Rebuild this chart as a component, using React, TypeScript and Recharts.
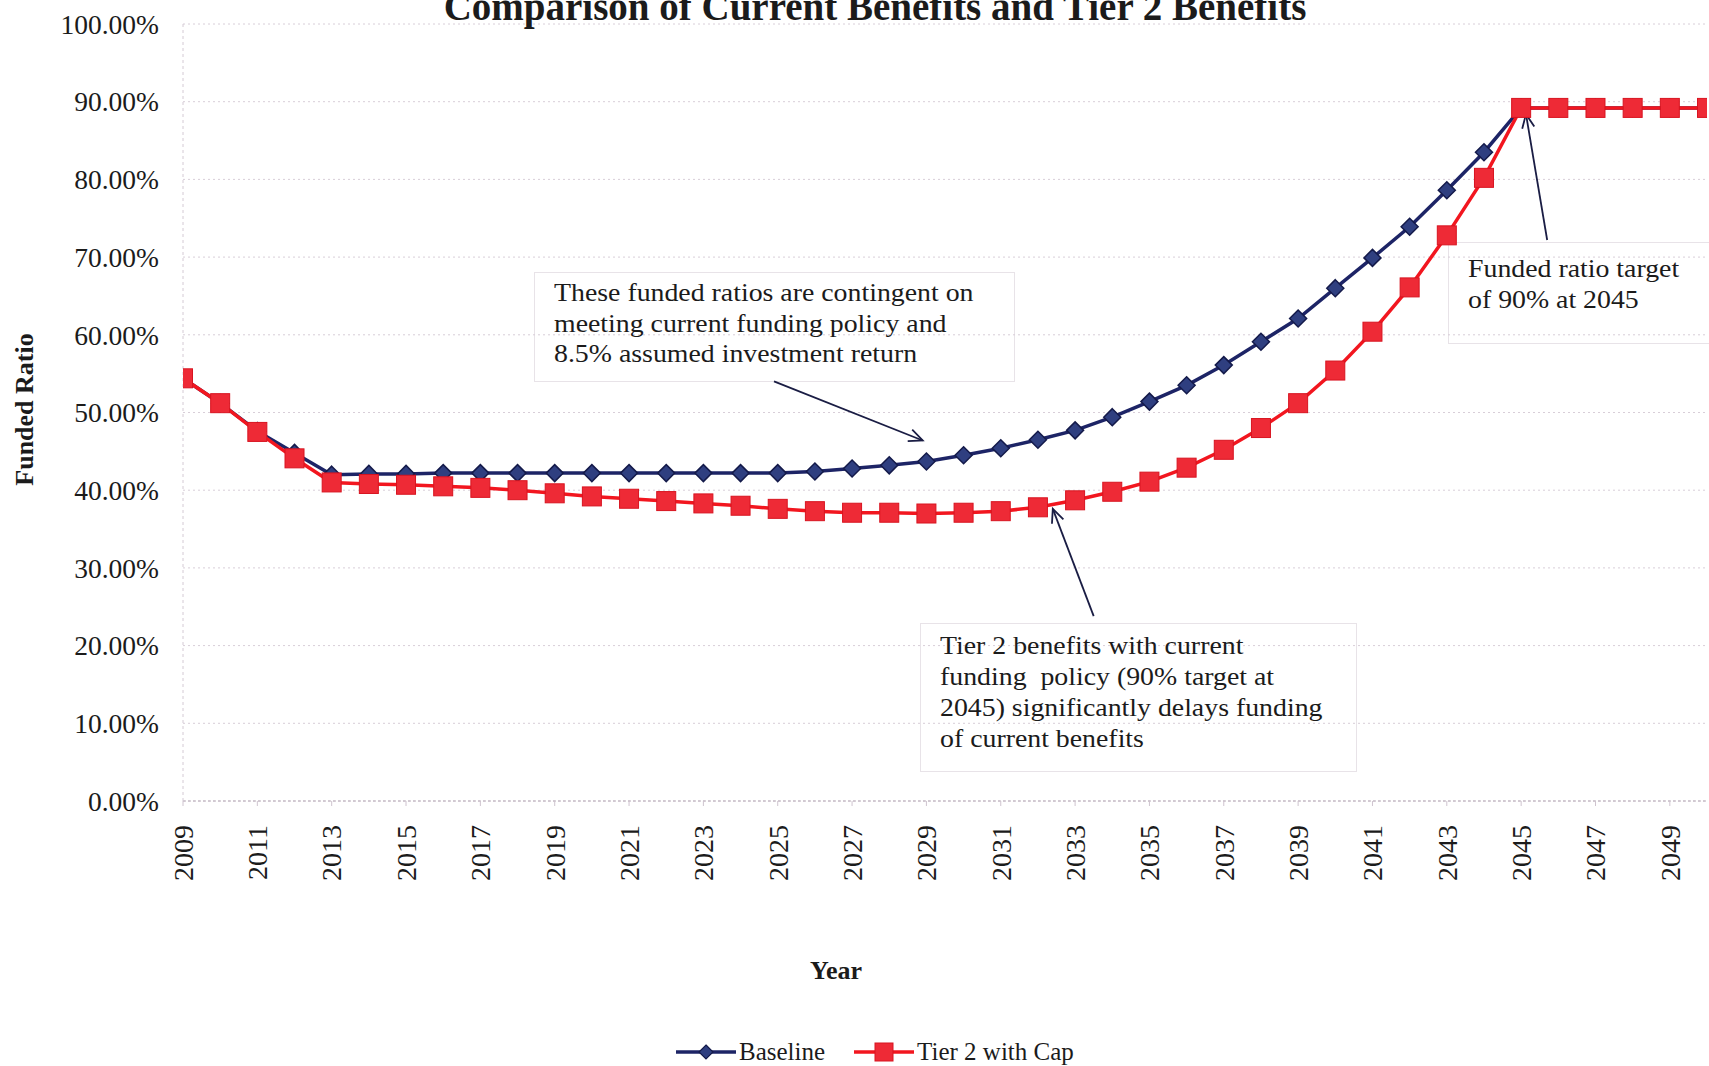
import React from 'react'
import { LineChart, Line, XAxis, YAxis, CartesianGrid, Legend, ReferenceLine, Label } from 'recharts'

// funded ratio projections, in percent
const years = [
    2009, 2010, 2011, 2012, 2013, 2014, 2015, 2016, 2017, 2018, 2019, 2020, 2021, 2022,
    2023, 2024, 2025, 2026, 2027, 2028, 2029, 2030, 2031, 2032, 2033, 2034, 2035, 2036,
    2037, 2038, 2039, 2040, 2041, 2042, 2043, 2044, 2045, 2046, 2047, 2048, 2049, 2050,
]
const baseline = [
    54.4, 51.2, 47.6, 44.8, 42.0, 42.1, 42.1, 42.2, 42.2, 42.2, 42.2, 42.2, 42.2, 42.2,
    42.2, 42.2, 42.2, 42.4, 42.8, 43.2, 43.7, 44.5, 45.4, 46.5, 47.7, 49.4, 51.4, 53.5,
    56.1, 59.1, 62.1, 66.0, 69.9, 73.9, 78.6, 83.5, 89.2, 89.2, 89.2, 89.2, 89.2, 89.2,
]
const tier2WithCap = [
    54.4, 51.2, 47.5, 44.1, 41.0, 40.8, 40.7, 40.5, 40.3, 40.0, 39.6, 39.2, 38.9, 38.6,
    38.3, 38.0, 37.6, 37.3, 37.1, 37.1, 37.0, 37.1, 37.3, 37.8, 38.7, 39.8, 41.1, 42.9,
    45.2, 48.0, 51.2, 55.4, 60.4, 66.1, 72.8, 80.2, 89.2, 89.2, 89.2, 89.2, 89.2, 89.2,
]
const yearTicks = [
    2009, 2011, 2013, 2015, 2017, 2019, 2021, 2023, 2025, 2027, 2029, 2031, 2033, 2035,
    2037, 2039, 2041, 2043, 2045, 2047, 2049,
]
const ratioTicks = [0, 10, 20, 30, 40, 50, 60, 70, 80, 90, 100]

// callout arrows, tail -> head, in (year, ratio) units
const contingentArrow = [{ x: 2024.9, y: 54.0 }, { x: 2028.9, y: 46.4 }]
const delayArrow = [{ x: 2033.5, y: 23.8 }, { x: 2032.4, y: 37.6 }]
const targetArrow = [{ x: 2045.7, y: 72.2 }, { x: 2045.13, y: 88.4 }]

const data = years.map((year, i) => ({ year, baseline: baseline[i], tier2: tier2WithCap[i] }))

const FONT = "'Liberation Serif', 'Times New Roman', Times, serif"
const NAVY = '#1d2466'
const RED = '#f2161f'
const INK = '#1b1b1b'

const Diamond = (props: any) => {
    const { cx, cy, index } = props
    if (cx == null || cy == null) return null
    const r = 8.5
    return (
        <polygon
            key={`b-${index}`}
            points={`${cx},${cy - r} ${cx + r},${cy} ${cx},${cy + r} ${cx - r},${cy}`}
            fill="#2f3f80"
            stroke="#141a4a"
            strokeWidth={1.5}
        />
    )
}

const Square = (props: any) => {
    const { cx, cy, index } = props
    if (cx == null || cy == null) return null
    const s = 19
    return (
        <rect
            key={`t-${index}`}
            x={cx - s / 2}
            y={cy - s / 2}
            width={s}
            height={s}
            fill="#ee2a36"
            stroke="#d81420"
            strokeWidth={1}
        />
    )
}

const Arrow = (props: any) => {
    const { x1, y1, x2, y2 } = props
    if ([x1, y1, x2, y2].some((v) => v == null || Number.isNaN(v))) return null
    const ang = Math.atan2(y2 - y1, x2 - x1)
    const len = 15
    const spread = 0.42
    const a = [x2 - len * Math.cos(ang - spread), y2 - len * Math.sin(ang - spread)]
    const b = [x2 - len * Math.cos(ang + spread), y2 - len * Math.sin(ang + spread)]
    return (
        <g stroke="#1a1d44" strokeWidth={1.8} fill="none">
            <line x1={x1} y1={y1} x2={x2} y2={y2} />
            <polyline points={`${a[0]},${a[1]} ${x2},${y2} ${b[0]},${b[1]}`} />
        </g>
    )
}

const YearTick = (props: any) => {
    const { x, y, payload } = props
    return (
        <text
            x={x}
            y={y}
            transform={`rotate(-90, ${x}, ${y})`}
            textAnchor="end"
            dy="0.35em"
            fontFamily={FONT}
            fontSize={28}
            fill={INK}
        >
            {payload.value}
        </text>
    )
}

const renderLegend = () => (
    <div style={{ display: 'flex', alignItems: 'center', height: 40, fontFamily: FONT, fontSize: 25, color: INK }}>
        <svg width={60} height={20}>
            <line x1={0} y1={10} x2={60} y2={10} stroke={NAVY} strokeWidth={3.5} />
            <polygon points="30,3 37,10 30,17 23,10" fill="#2f3f80" stroke="#141a4a" strokeWidth={1.2} />
        </svg>
        <span style={{ marginLeft: 3 }}>Baseline</span>
        <svg width={60} height={20} style={{ marginLeft: 29 }}>
            <line x1={0} y1={10} x2={60} y2={10} stroke={RED} strokeWidth={3.5} />
            <rect x={21} y={1} width={18} height={18} fill="#ee2a36" stroke="#d81420" />
        </svg>
        <span style={{ marginLeft: 3 }}>Tier 2 with Cap</span>
    </div>
)

const noteStyle: React.CSSProperties = {
    position: 'absolute',
    fontFamily: FONT,
    fontSize: 26,
    lineHeight: '31px',
    color: INK,
    whiteSpace: 'nowrap',
    transform: 'scaleX(1.07)',
    transformOrigin: 'left top',
}

const boxStyle: React.CSSProperties = {
    position: 'absolute',
    border: '1px solid #e8e3e8',
}

export default function App() {
    return (
        <div style={{ position: 'relative', width: 1709, height: 1066, overflow: 'hidden', background: '#fff' }}>
            <style>{'body{margin:0}'}</style>

            <div style={{ ...boxStyle, left: 534, top: 272, width: 479, height: 108 }} />
            <div style={{ ...boxStyle, left: 920, top: 623, width: 435, height: 147 }} />
            <div style={{ ...boxStyle, left: 1448, top: 242, width: 300, height: 100 }} />

            <LineChart width={1709} height={1066} data={data} margin={{ top: 24, right: 2, bottom: 0, left: 0 }}>
                <CartesianGrid vertical={false} stroke="#d8ced8" strokeDasharray="2 3" />
                <XAxis
                    dataKey="year"
                    type="number"
                    domain={[2009, 2050]}
                    ticks={yearTicks}
                    allowDataOverflow
                    height={225}
                    axisLine={{ stroke: '#b9acb9', strokeDasharray: '3 2' }}
                    tickLine={{ stroke: '#cfc4cf' }}
                    tickSize={5}
                    tickMargin={19}
                    tick={<YearTick />}
                >
                    <Label
                        content={() => (
                            <text x={836} y={970} textAnchor="middle" dy="0.35em" fontFamily={FONT} fontSize={26} fontWeight="bold" fill={INK}>
                                Year
                            </text>
                        )}
                    />
                </XAxis>
                <YAxis
                    type="number"
                    domain={[0, 100]}
                    ticks={ratioTicks}
                    width={183}
                    axisLine={{ stroke: '#d4cad4', strokeDasharray: '3 3' }}
                    tickLine={false}
                    tickSize={0}
                    tickMargin={24}
                    tickFormatter={(v: number) => `${v.toFixed(2)}%`}
                    tick={{ fontFamily: FONT, fontSize: 27.5, fill: INK }}
                >
                    <Label
                        content={(p: any) => {
                            const cy = p.viewBox.y + p.viewBox.height / 2 - 3
                            return (
                                <text
                                    x={24}
                                    y={cy}
                                    transform={`rotate(-90, 24, ${cy})`}
                                    textAnchor="middle"
                                    dy="0.35em"
                                    fontFamily={FONT}
                                    fontSize={26}
                                    fontWeight="bold"
                                    fill={INK}
                                >
                                    Funded Ratio
                                </text>
                            )
                        }}
                    />
                </YAxis>
                <Legend content={renderLegend} wrapperStyle={{ left: 676, bottom: -6, width: 'auto' }} />
                <ReferenceLine segment={contingentArrow} shape={Arrow} />
                <ReferenceLine segment={delayArrow} shape={Arrow} />
                <ReferenceLine segment={targetArrow} shape={Arrow} />
                <Line
                    type="linear"
                    dataKey="baseline"
                    name="Baseline"
                    stroke={NAVY}
                    strokeWidth={3.5}
                    dot={Diamond}
                    activeDot={false}
                    isAnimationActive={false}
                />
                <Line
                    type="linear"
                    dataKey="tier2"
                    name="Tier 2 with Cap"
                    stroke={RED}
                    strokeWidth={3.5}
                    dot={Square}
                    activeDot={false}
                    isAnimationActive={false}
                />
            </LineChart>

            <div
                style={{
                    position: 'absolute',
                    left: 875,
                    top: -13,
                    transform: 'translateX(-50%)',
                    fontFamily: FONT,
                    fontWeight: 'bold',
                    fontSize: 39,
                    lineHeight: '39px',
                    color: INK,
                    whiteSpace: 'nowrap',
                }}
            >
                Comparison of Current Benefits and Tier 2 Benefits
            </div>

            <div style={{ ...noteStyle, left: 554, top: 278, lineHeight: '30.5px' }}>
                These funded ratios are contingent on
                <br />
                meeting current funding policy and
                <br />
                8.5% assumed investment return
            </div>
            <div style={{ ...noteStyle, left: 940, top: 630 }}>
                Tier 2 benefits with current
                <br />
                funding&nbsp; policy (90% target at
                <br />
                2045) significantly delays funding
                <br />
                of current benefits
            </div>
            <div style={{ ...noteStyle, left: 1468, top: 253 }}>
                Funded ratio target
                <br />
                of 90% at 2045
            </div>
        </div>
    )
}
